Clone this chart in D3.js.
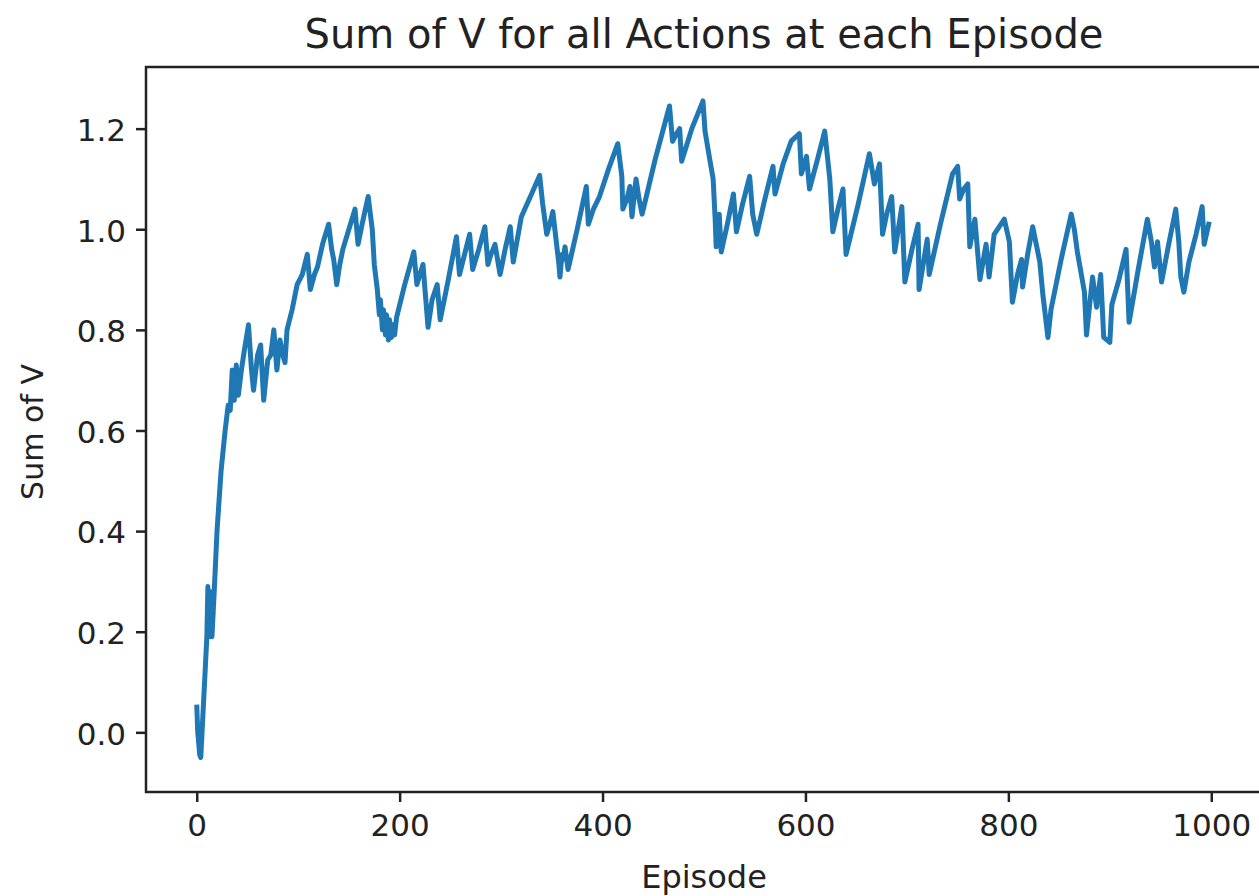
<!DOCTYPE html>
<html>
<head>
<meta charset="utf-8">
<script src="https://cdn.jsdelivr.net/npm/d3@7"></script>
<style>
  body { margin: 0; background: #fff; }
  text { font-family: "DejaVu Sans", sans-serif; fill: #222; }
</style>
</head>
<body>
<div id="chart"></div>
<script>
var svgWidth = 1259;
var svgHeight = 896;

// episode numbers of the turning points
var episodes = [
  0, 1, 3, 4, 10, 11, 12, 13, 15, 17,
  20, 24, 28, 31, 33, 35, 37, 39, 41, 44,
  47, 51, 54, 56, 60, 63, 66, 70, 73, 76,
  79, 82, 85, 87, 89, 94, 99, 104, 109, 112,
  116, 119, 124, 130, 133, 135, 138, 141, 144, 150,
  156, 159, 163, 169, 173, 175, 178, 180, 181, 183,
  184, 186, 187, 189, 190, 192, 193, 195, 197, 205,
  214, 217, 220, 223, 228, 232, 237, 240, 248, 256,
  259, 264, 269, 272, 278, 284, 287, 290, 294, 299,
  304, 309, 312, 316, 320, 330, 338, 341, 345, 348,
  351, 355, 357, 358, 360, 361, 363, 366, 375, 384,
  386, 391, 397, 406, 415, 419, 420, 424, 427, 429,
  433, 436, 439, 452, 466, 469, 473, 476, 478, 488,
  499, 501, 506, 509, 511, 512, 513, 515, 517, 523,
  529, 532, 538, 545, 548, 552, 560, 568, 570, 578,
  586, 594, 596, 601, 604, 612, 619, 624, 627, 632,
  637, 640, 652, 663, 668, 673, 676, 680, 685, 688,
  695, 698, 705, 711, 712, 716, 720, 722, 733, 745,
  750, 752, 756, 760, 762, 767, 772, 778, 781, 786,
  796, 801, 804, 809, 813, 814, 819, 824, 831, 834,
  839, 842, 852, 862, 865, 868, 875, 877, 883, 887,
  891, 894, 900, 902, 909, 916, 919, 928, 937, 941,
  944, 947, 951, 958, 965, 968, 970, 973, 978, 985,
  991, 993, 998
];

var sumV = [
  0.055, 0.0, -0.045, -0.05, 0.19, 0.29, 0.19, 0.28, 0.19, 0.27,
  0.40, 0.52, 0.60, 0.65, 0.64, 0.72, 0.66, 0.73, 0.67, 0.72,
  0.76, 0.81, 0.72, 0.68, 0.75, 0.77, 0.66, 0.74, 0.75, 0.80,
  0.72, 0.78, 0.75, 0.735, 0.80, 0.84, 0.89, 0.91, 0.95, 0.88,
  0.91, 0.925, 0.97, 1.01, 0.96, 0.94, 0.89, 0.93, 0.96, 1.00,
  1.04, 0.97, 1.01, 1.065, 1.00, 0.93, 0.88, 0.83, 0.86, 0.80,
  0.84, 0.79, 0.83, 0.78, 0.82, 0.785, 0.81, 0.79, 0.825, 0.89,
  0.955, 0.89, 0.91, 0.93, 0.805, 0.86, 0.89, 0.82, 0.90, 0.985,
  0.91, 0.95, 0.99, 0.92, 0.96, 1.005, 0.93, 0.95, 0.97, 0.91,
  0.96, 1.005, 0.935, 0.98, 1.025, 1.07, 1.107, 1.05, 0.99, 1.01,
  1.035, 0.965, 0.93, 0.905, 0.95, 0.94, 0.965, 0.92, 1.00, 1.085,
  1.01, 1.04, 1.065, 1.12, 1.17, 1.105, 1.04, 1.06, 1.085, 1.025,
  1.10, 1.06, 1.03, 1.14, 1.245, 1.175, 1.19, 1.20, 1.135, 1.20,
  1.255, 1.195, 1.135, 1.10, 1.02, 0.965, 1.00, 1.03, 0.955, 1.01,
  1.07, 0.995, 1.05, 1.105, 1.03, 0.99, 1.06, 1.125, 1.07, 1.13,
  1.175, 1.19, 1.11, 1.145, 1.08, 1.14, 1.195, 1.10, 0.995, 1.04,
  1.08, 0.95, 1.05, 1.15, 1.09, 1.13, 0.99, 1.03, 1.065, 0.955,
  1.045, 0.895, 0.96, 1.01, 0.88, 0.93, 0.98, 0.91, 1.01, 1.11,
  1.125, 1.06, 1.08, 1.09, 0.965, 1.02, 0.90, 0.97, 0.905, 0.99,
  1.02, 0.975, 0.855, 0.91, 0.94, 0.885, 0.95, 1.005, 0.935, 0.87,
  0.785, 0.84, 0.94, 1.03, 1.00, 0.955, 0.875, 0.79, 0.905, 0.845,
  0.91, 0.785, 0.775, 0.85, 0.90, 0.96, 0.815, 0.92, 1.02, 0.975,
  0.925, 0.975, 0.895, 0.97, 1.04, 0.975, 0.905, 0.875, 0.935, 0.99,
  1.045, 0.97, 1.015
];

var xTicks = [0, 200, 400, 600, 800, 1000];
var yTicks = [0.0, 0.2, 0.4, 0.6, 0.8, 1.0, 1.2];

var titleText = "Sum of V for all Actions at each Episode";
var xLabel = "Episode";
var yLabel = "Sum of V";

var plot = { left: 146, right: 1262, top: 67, bottom: 792 };

var svg = d3.select('#chart').append('svg')
  .attr('width', svgWidth)
  .attr('height', svgHeight);

var x = d3.scaleLinear().domain([-50, 1050]).range([plot.left, plot.right]);
var y = d3.scaleLinear().domain([-0.1186, 1.3225]).range([plot.bottom, plot.top]);

var points = episodes.map(function (e, i) { return [e, sumV[i]]; });

//the series
var line = d3.line()
  .x(function (d) { return x(d[0]); })
  .y(function (d) { return y(d[1]); });

svg.append('path')
  .datum(points)
  .attr('d', line)
  .attr('fill', 'none')
  .attr('stroke', '#1f77b4')
  .attr('stroke-width', 5)
  .attr('stroke-linejoin', 'round');

//axes
var xAxis = svg.append('g')
  .attr('transform', 'translate(0,' + plot.bottom + ')')
  .call(d3.axisBottom(x).tickValues(xTicks).tickSize(10).tickPadding(8).tickFormat(d3.format('d')));

var yAxis = svg.append('g')
  .attr('transform', 'translate(' + plot.left + ',0)')
  .call(d3.axisLeft(y).tickValues(yTicks).tickSize(10).tickPadding(10).tickFormat(d3.format('.1f')));

[xAxis, yAxis].forEach(function (g) {
  g.select('.domain').remove();
  g.selectAll('line').attr('stroke', '#222').attr('stroke-width', 2.5);
  g.selectAll('text').attr('font-size', 31).attr('fill', '#222')
    .style('font-family', '"DejaVu Sans", sans-serif');
});
yAxis.selectAll('text').attr('dy', '0.38em');
xAxis.selectAll('text').attr('dy', '0.85em');

//frame
svg.append('rect')
  .attr('x', plot.left)
  .attr('y', plot.top)
  .attr('width', plot.right - plot.left)
  .attr('height', plot.bottom - plot.top)
  .attr('fill', 'none')
  .attr('stroke', '#222')
  .attr('stroke-width', 2.5);

svg.append('text')
  .attr('x', (plot.left + plot.right) / 2)
  .attr('y', 48)
  .attr('text-anchor', 'middle')
  .attr('font-size', 40)
  .text(titleText);

svg.append('text')
  .attr('x', 704)
  .attr('y', 888)
  .attr('text-anchor', 'middle')
  .attr('font-size', 32)
  .text(xLabel);

svg.append('text')
  .attr('transform', 'translate(43,432) rotate(-90)')
  .attr('text-anchor', 'middle')
  .attr('font-size', 30)
  .text(yLabel);
</script>
</body>
</html>
